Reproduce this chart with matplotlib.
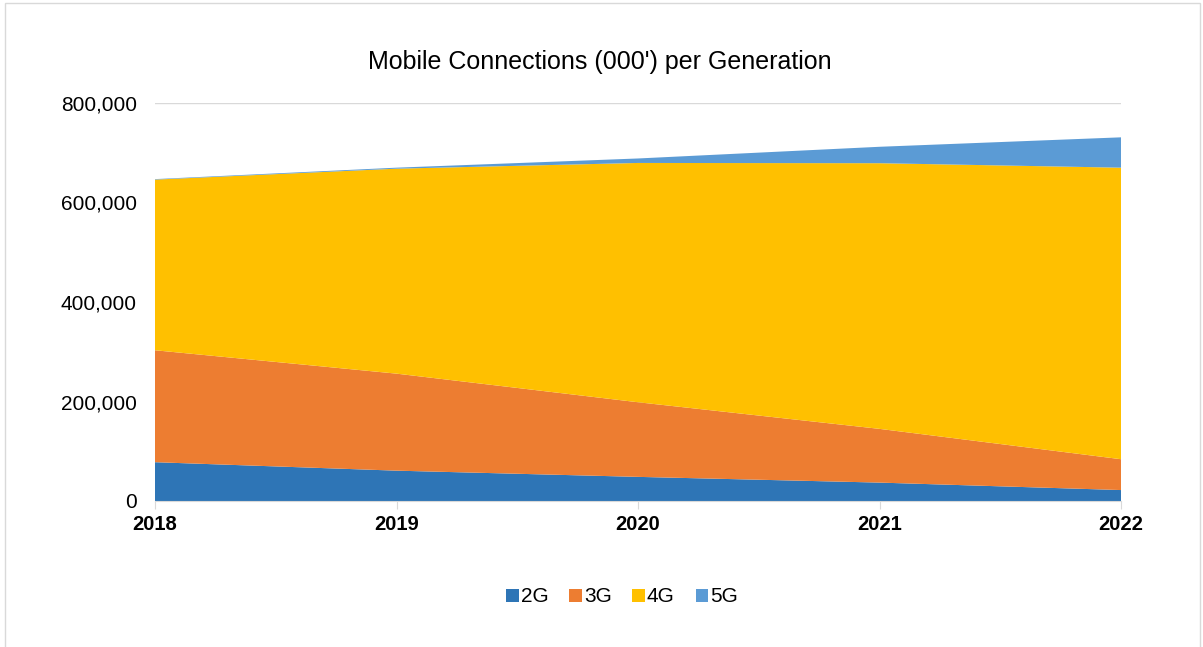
import matplotlib
matplotlib.use("Agg")
import matplotlib.pyplot as plt
from matplotlib.ticker import FuncFormatter
from matplotlib.patches import Rectangle, Patch

plt.rcParams['font.family'] = ['Liberation Sans', 'DejaVu Sans']

years = [2018, 2019, 2020, 2021, 2022]
series_names = ["2G", "3G", "4G", "5G"]
conn_2g = [78000, 61000, 48500, 37000, 22000]
conn_3g = [225000, 195000, 150000, 108000, 62000]
conn_4g = [343000, 412000, 481000, 534000, 586000]
conn_5g = [1000, 2000, 9000, 33000, 61000]
colors = ["#2E75B6", "#ED7D31", "#FFC000", "#5B9BD5"]
y_ticks = [0, 200000, 400000, 600000, 800000]

W, H = 1203, 647
fig = plt.figure(figsize=(W / 100, H / 100), dpi=100)
fig.patch.set_facecolor("white")

# outer chart border
fig.patches.append(Rectangle((5 / W, -0.01), 1195 / W, 1 - 3 / H + 0.01,
                             transform=fig.transFigure, fill=False,
                             edgecolor="#d9d9d9", linewidth=1))

ax = fig.add_axes([155 / W, 1 - 501 / H, (1121 - 155) / W, (501 - 103) / H])
ax.stackplot(years, conn_2g, conn_3g, conn_4g, conn_5g,
             colors=colors, labels=series_names, linewidth=0, zorder=2)

ax.set_xlim(years[0], years[-1])
ax.set_ylim(0, 800000)
ax.set_yticks(y_ticks)
ax.yaxis.set_major_formatter(FuncFormatter(lambda v, p: f"{int(v):,}"))
ax.set_xticks(years)
ax.set_xticklabels([str(y) for y in years], fontweight="bold")
ax.grid(axis="y", color="#d9d9d9", linewidth=1, zorder=0)
ax.set_axisbelow(True)

for s in ["top", "right", "left"]:
    ax.spines[s].set_visible(False)
ax.spines["bottom"].set_color("#d9d9d9")
ax.spines["bottom"].set_zorder(3)
ax.tick_params(axis="y", length=0, labelsize=15, pad=13, colors="black")
ax.tick_params(axis="x", length=6, color="#d9d9d9", labelsize=14.5, pad=4,
               labelcolor="black")

fig.text(600 / W, 1 - 62 / H, "Mobile Connections (000') per Generation",
         ha="center", va="center", fontsize=18)

handles = [Patch(facecolor=c, edgecolor="none") for c in colors]
fig.legend(handles, series_names, loc="center", bbox_to_anchor=(622 / W, 1 - 597 / H),
           ncol=4, frameon=False, fontsize=15, handlelength=0.6, handleheight=0.6,
           handletextpad=0.1, columnspacing=1.0)

fig.savefig("out.png", dpi=100)
